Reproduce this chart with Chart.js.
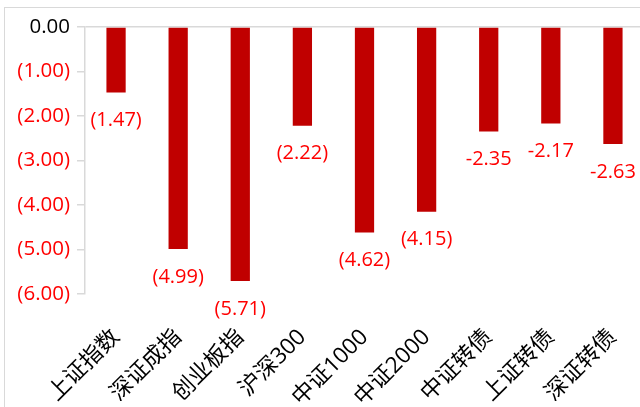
<!DOCTYPE html>
<html>
<head>
<meta charset="utf-8">
<script src="https://cdn.jsdelivr.net/npm/chart.js@4"></script>
<style>
    html, body { margin: 0; padding: 0; background: #fff; overflow: hidden; }
    #wrap { position: relative; width: 644px; height: 407px; }
    #frame {
        position: absolute; left: 4px; top: 7px; width: 700px; height: 500px;
        border: 1.5px solid #d9d9d9; pointer-events: none;
    }
</style>
</head>
<body>
<div id="wrap">
    <canvas id="chart" width="644" height="407"></canvas>
    <div id="frame"></div>
</div>
<script>
// Chart data
const categories = ["上证指数", "深证成指", "创业板指", "沪深300", "中证1000", "中证2000", "中证转债", "上证转债", "深证转债"];
const changes = [-1.47, -4.99, -5.71, -2.22, -4.62, -4.15, -2.35, -2.17, -2.63];
// how each bar's value label is written: accounting brackets or a minus sign
const labelStyles = ["paren", "paren", "paren", "paren", "paren", "paren", "minus", "minus", "minus"];
const yTicks = [0, -1, -2, -3, -4, -5, -6];

const FONT = "'Open Sans', 'Noto Sans CJK SC', sans-serif";

function formatValue(v, style) {
    if (v === 0) return "0.00";
    if (style === "minus") return v.toFixed(2);
    return "(" + Math.abs(v).toFixed(2) + ")";
}

// Value labels under each bar
const valueLabels = {
    id: "valueLabels",
    afterDatasetsDraw(chart) {
        const { ctx, scales } = chart;
        ctx.save();
        ctx.font = "20px " + FONT;
        ctx.fillStyle = "#ff0000";
        ctx.textAlign = "center";
        ctx.textBaseline = "middle";
        changes.forEach((v, i) => {
            const x = scales.x.getPixelForValue(i);
            const y = scales.y.getPixelForValue(v) + 28;
            ctx.fillText(formatValue(v, labelStyles[i]), x, y);
        });
        ctx.restore();
    }
};

document.addEventListener("DOMContentLoaded", () => {
    const ctx = document.getElementById("chart").getContext("2d");

    new Chart(ctx, {
        type: "bar",
        data: {
            labels: categories,
            datasets: [
                {
                    data: changes,
                    backgroundColor: "#c00000",
                    barPercentage: 0.31,
                    categoryPercentage: 1,
                },
            ],
        },
        options: {
            responsive: false,
            animation: false,
            layout: { padding: { top: 27, right: 0, bottom: 0, left: 0 } },
            plugins: {
                legend: { display: false },
                tooltip: { enabled: false },
            },
            scales: {
                x: {
                    grid: { display: false },
                    border: { display: false },
                    ticks: {
                        color: "#000",
                        font: { family: FONT, size: 22.5 },
                        maxRotation: 45,
                        minRotation: 45,
                        padding: 22,
                        autoSkip: false,
                    },
                    afterFit: s => {
                        s.height = 113;
                        s.paddingLeft = 0;
                        s.paddingRight = 0;
                    },
                },
                y: {
                    min: -6,
                    max: 0,
                    afterBuildTicks: s => { s.ticks = yTicks.map(v => ({ value: v })); },
                    afterFit: s => { s.width = 85; },
                    grid: {
                        color: c => (c.tick && c.tick.value === 0 ? "#d9d9d9" : "rgba(0,0,0,0)"),
                        lineWidth: 1.5,
                        tickColor: "#d9d9d9",
                        tickLength: 8,
                    },
                    border: { color: "#d9d9d9", width: 1.5 },
                    ticks: {
                        padding: 7,
                        color: c => (c.tick.value === 0 ? "#000" : "#ff0000"),
                        font: { family: FONT, size: 20.5 },
                        callback: v => formatValue(v, "paren"),
                    },
                },
            },
        },
        plugins: [valueLabels],
    });
});
</script>
</body>
</html>
